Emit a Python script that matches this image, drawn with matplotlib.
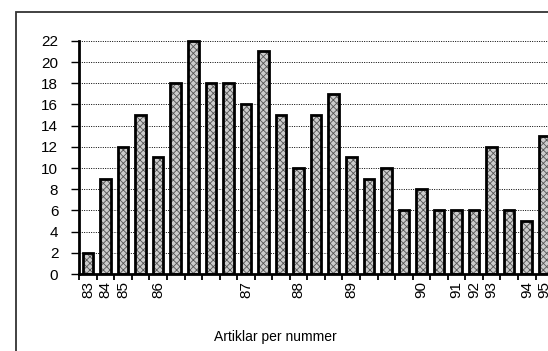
import numpy as np
import matplotlib
matplotlib.use("Agg")
import matplotlib.pyplot as plt
from matplotlib.patches import Rectangle

plt.rcParams['font.family'] = ['Liberation Sans', 'DejaVu Sans']

# articles per issue, one bar per issue
values = [2, 9, 12, 15, 11, 18, 22, 18, 18, 16, 21, 15, 10, 15, 17, 11, 9, 10,
          6, 8, 6, 6, 6, 12, 6, 5, 13]
# year labels and the bar they sit under
year_pos = [0, 1, 2, 4, 9, 12, 15, 19, 21, 22, 23, 25, 26]
year_labels = ['83', '84', '85', '86', '87', '88', '89', '90', '91', '92', '93', '94', '95']
yticks = list(range(0, 23, 2))

x = np.arange(len(values))

fig = plt.figure(figsize=(5.48, 3.51), dpi=100)
ax = fig.add_axes([79.2 / 548, 77 / 351, 1 - 79.2 / 548, 234.7 / 351])

# stipple fill, then the black outline on top
plt.rcParams['hatch.linewidth'] = 0.6
ax.bar(x, values, width=0.6, color='#cccccc', edgecolor='#555555', hatch='xxxxx',
       linewidth=0, zorder=2)
ax.bar(x, values, width=0.6, fill=False, edgecolor='black', linewidth=2, zorder=3)

ax.set_xlim(-0.5, 26.21)
ax.set_ylim(0, 22.15)

for y in yticks[1:]:
    ax.axhline(y, color='black', linewidth=0.7, linestyle=(0, (1, 1.4)), zorder=1)

ax.set_yticks(yticks)
ax.tick_params(axis='y', direction='out', length=6, width=1, pad=9, labelsize=11)

ax.set_xticks(year_pos)
ax.set_xticklabels(year_labels, rotation=90, fontsize=11)
ax.set_xticks(np.arange(-0.5, 26, 1), minor=True)
ax.tick_params(axis='x', which='major', length=0, pad=5)
ax.tick_params(axis='x', which='minor', direction='out', length=4, width=1.3)

for s in ['top', 'right']:
    ax.spines[s].set_visible(False)
ax.spines['left'].set_linewidth(2)
ax.spines['left'].set_bounds(0, 22)
ax.spines['bottom'].set_linewidth(2)

fig.text(275 / 548, 1 - 337 / 351, 'Artiklar per nummer', ha='center', va='center',
         fontsize=10)

# the scanned page frame
fig.patches.append(Rectangle((16 / 548, -0.1), 2, 1 - 12 / 351 + 0.1, fill=False,
                             edgecolor='#333333', linewidth=1.3,
                             transform=fig.transFigure, figure=fig))

fig.savefig('out.png', dpi=100)
